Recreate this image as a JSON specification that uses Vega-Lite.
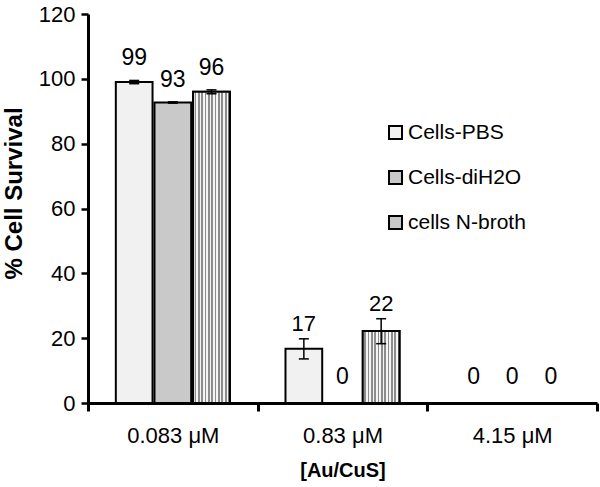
{
  "$schema": "https://vega.github.io/schema/vega-lite/v6.json",
  "width": 509,
  "height": 389,
  "autosize": {"type": "none"},
  "padding": {"left": 88, "top": 14, "right": 3, "bottom": 84},
  "background": "white",
  "config": {
    "view": {"stroke": null},
    "font": "Liberation Sans",
    "axis": {"labelColor": "black", "titleColor": "black", "domainColor": "black", "tickColor": "black", "grid": false}
  },
  "data": {
    "values": [
      {"conc": "0.083 μM", "series": "Cells-PBS", "value": 99, "lo": 98.5, "hi": 99.5, "label": "99"},
      {"conc": "0.083 μM", "series": "Cells-diH2O", "value": 92.7, "lo": 92.5, "hi": 92.9, "label": "93"},
      {"conc": "0.083 μM", "series": "cells N-broth", "value": 96, "lo": 95.4, "hi": 96.6, "label": "96"},
      {"conc": "0.83 μM", "series": "Cells-PBS", "value": 16.7, "lo": 13.6, "hi": 19.8, "label": "17"},
      {"conc": "0.83 μM", "series": "Cells-diH2O", "value": 0, "lo": 0, "hi": 0, "label": "0"},
      {"conc": "0.83 μM", "series": "cells N-broth", "value": 22.2, "lo": 18.3, "hi": 26.0, "label": "22"},
      {"conc": "4.15 μM", "series": "Cells-PBS", "value": 0, "lo": 0, "hi": 0, "label": "0"},
      {"conc": "4.15 μM", "series": "Cells-diH2O", "value": 0, "lo": 0, "hi": 0, "label": "0"},
      {"conc": "4.15 μM", "series": "cells N-broth", "value": 0, "lo": 0, "hi": 0, "label": "0"}
    ]
  },
  "encoding": {
    "x": {
      "field": "conc", "type": "nominal", "sort": ["0.083 μM", "0.83 μM", "4.15 μM"],
      "scale": {"paddingInner": 0, "paddingOuter": 0},
      "axis": {
        "title": "[Au/CuS]", "titleFontSize": 20, "titleFontWeight": "bold", "titlePadding": 14,
        "labelAngle": 0, "labelFontSize": 22, "labelPadding": 14, "labelFontWeight": "normal",
        "domainWidth": 3, "tickWidth": 3, "tickSize": 8, "tickBand": "extent"
      }
    },
    "xOffset": {
      "field": "series", "type": "nominal",
      "scale": {"domain": ["Cells-PBS", "Cells-diH2O", "cells N-broth"], "paddingInner": 0.05, "paddingOuter": 0.72}
    }
  },
  "layer": [
    {
      "mark": {"type": "bar", "stroke": "black", "strokeWidth": 2, "opacity": 1},
      "encoding": {
        "y": {
          "field": "value", "type": "quantitative",
          "scale": {"domain": [0, 120], "nice": false},
          "axis": {
            "title": "% Cell Survival", "titleFontSize": 24, "titleFontWeight": "bold",
            "titleX": -74, "titleY": 179, "titleBaseline": "middle",
            "values": [0, 20, 40, 60, 80, 100, 120], "labelFontSize": 22, "labelPadding": 6,
            "domainWidth": 3, "tickWidth": 2.5, "tickSize": 7
          }
        },
        "color": {
          "field": "series", "type": "nominal",
          "scale": {
            "domain": ["Cells-PBS", "Cells-diH2O", "cells N-broth"],
            "range": ["#f1f1f1", "#c9c9c9", "#c8c8c8"]
          },
          "legend": {
            "title": null, "orient": "none", "legendX": 297, "legendY": 108,
            "symbolType": "square", "symbolSize": 169, "symbolStrokeColor": "black", "symbolStrokeWidth": 2,
            "symbolOpacity": 1, "labelFontSize": 21, "labelColor": "black", "labelOffset": 2, "rowPadding": 23,
            "encode": {
              "symbols": {
                "update": {
                  "stroke": {"value": "black"},
                  "strokeWidth": {"value": 2},
                  "fill": {"signal": "datum.value === 'cells N-broth' ? {gradient: 'linear', x1: 0, y1: 0, x2: 1, y2: 0, stops: [{offset: 0, color: '#f5f5f5'}, {offset: 0.2, color: '#f5f5f5'}, {offset: 0.2, color: '#8c8c8c'}, {offset: 0.4, color: '#8c8c8c'}, {offset: 0.4, color: '#f5f5f5'}, {offset: 0.6, color: '#f5f5f5'}, {offset: 0.6, color: '#8c8c8c'}, {offset: 0.8, color: '#8c8c8c'}, {offset: 0.8, color: '#f5f5f5'}, {offset: 1, color: '#f5f5f5'}]} : scale('color', datum.value)"}
                }
              }
            }
          }
        }
      }
    },
    {
      "transform": [{"filter": "datum.series === 'cells N-broth' && datum.value > 0"}],
      "mark": {
        "type": "bar", "stroke": "black", "strokeWidth": 2, "opacity": 1,
        "fill": {"gradient": "linear", "x1": 0, "y1": 0, "x2": 1, "y2": 0, "stops": [
          {"offset": 0, "color": "#f5f5f5"}, {"offset": 0.0455, "color": "#f5f5f5"},
          {"offset": 0.0455, "color": "#8c8c8c"}, {"offset": 0.0909, "color": "#8c8c8c"},
          {"offset": 0.0909, "color": "#f5f5f5"}, {"offset": 0.1364, "color": "#f5f5f5"},
          {"offset": 0.1364, "color": "#8c8c8c"}, {"offset": 0.1818, "color": "#8c8c8c"},
          {"offset": 0.1818, "color": "#f5f5f5"}, {"offset": 0.2273, "color": "#f5f5f5"},
          {"offset": 0.2273, "color": "#8c8c8c"}, {"offset": 0.2727, "color": "#8c8c8c"},
          {"offset": 0.2727, "color": "#f5f5f5"}, {"offset": 0.3182, "color": "#f5f5f5"},
          {"offset": 0.3182, "color": "#8c8c8c"}, {"offset": 0.3636, "color": "#8c8c8c"},
          {"offset": 0.3636, "color": "#f5f5f5"}, {"offset": 0.4091, "color": "#f5f5f5"},
          {"offset": 0.4091, "color": "#8c8c8c"}, {"offset": 0.4545, "color": "#8c8c8c"},
          {"offset": 0.4545, "color": "#f5f5f5"}, {"offset": 0.5, "color": "#f5f5f5"},
          {"offset": 0.5, "color": "#8c8c8c"}, {"offset": 0.5455, "color": "#8c8c8c"},
          {"offset": 0.5455, "color": "#f5f5f5"}, {"offset": 0.5909, "color": "#f5f5f5"},
          {"offset": 0.5909, "color": "#8c8c8c"}, {"offset": 0.6364, "color": "#8c8c8c"},
          {"offset": 0.6364, "color": "#f5f5f5"}, {"offset": 0.6818, "color": "#f5f5f5"},
          {"offset": 0.6818, "color": "#8c8c8c"}, {"offset": 0.7273, "color": "#8c8c8c"},
          {"offset": 0.7273, "color": "#f5f5f5"}, {"offset": 0.7727, "color": "#f5f5f5"},
          {"offset": 0.7727, "color": "#8c8c8c"}, {"offset": 0.8182, "color": "#8c8c8c"},
          {"offset": 0.8182, "color": "#f5f5f5"}, {"offset": 0.8636, "color": "#f5f5f5"},
          {"offset": 0.8636, "color": "#8c8c8c"}, {"offset": 0.9091, "color": "#8c8c8c"},
          {"offset": 0.9091, "color": "#f5f5f5"}, {"offset": 0.9545, "color": "#f5f5f5"},
          {"offset": 0.9545, "color": "#8c8c8c"}, {"offset": 1, "color": "#8c8c8c"}
        ]}
      },
      "encoding": {"y": {"field": "value", "type": "quantitative"}}
    },
    {
      "transform": [{"filter": "datum.hi > datum.lo"}],
      "mark": {"type": "rule", "color": "black", "strokeWidth": 1.5},
      "encoding": {"y": {"field": "lo", "type": "quantitative"}, "y2": {"field": "hi"}}
    },
    {
      "transform": [{"filter": "datum.hi > datum.lo"}],
      "mark": {"type": "tick", "color": "black", "thickness": 1.5, "size": 10, "opacity": 1},
      "encoding": {"y": {"field": "lo", "type": "quantitative"}}
    },
    {
      "transform": [{"filter": "datum.hi > datum.lo"}],
      "mark": {"type": "tick", "color": "black", "thickness": 1.5, "size": 10, "opacity": 1},
      "encoding": {"y": {"field": "hi", "type": "quantitative"}}
    },
    {
      "transform": [{"filter": "datum.value > 50"}],
      "mark": {"type": "text", "fontSize": 23, "baseline": "alphabetic", "dy": -15, "color": "black"},
      "encoding": {"y": {"field": "hi", "type": "quantitative"}, "text": {"field": "label"}}
    },
    {
      "transform": [{"filter": "datum.value > 0 && datum.value <= 50"}],
      "mark": {"type": "text", "fontSize": 22, "baseline": "alphabetic", "dy": -8, "color": "black"},
      "encoding": {"y": {"field": "hi", "type": "quantitative"}, "text": {"field": "label"}}
    },
    {
      "transform": [{"filter": "datum.value == 0"}],
      "mark": {"type": "text", "fontSize": 23, "baseline": "alphabetic", "dy": -19, "color": "black"},
      "encoding": {"y": {"field": "hi", "type": "quantitative"}, "text": {"field": "label"}}
    }
  ]
}
